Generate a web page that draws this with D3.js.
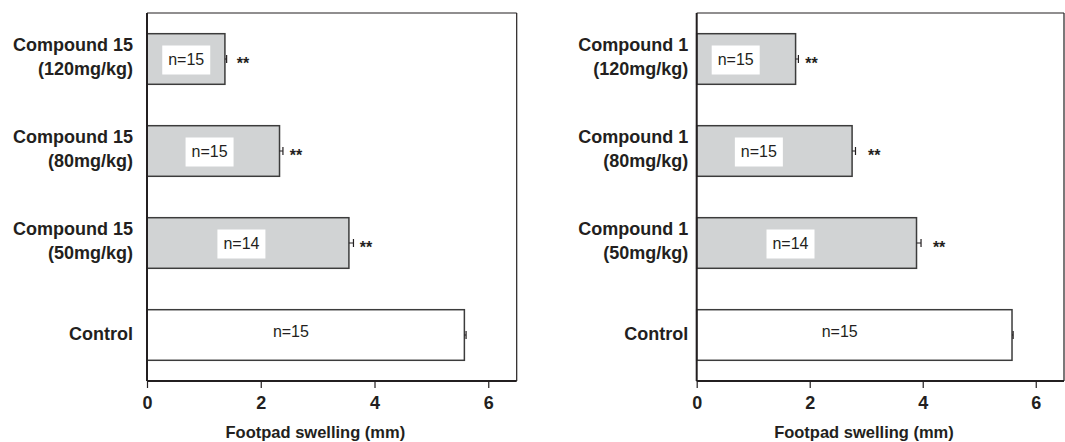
<!DOCTYPE html>
<html><head><meta charset="utf-8">
<script src="https://cdn.jsdelivr.net/npm/d3@7"></script>
<style>
html,body{margin:0;padding:0;background:#fff;}
svg{display:block;font-family:"Liberation Sans",Arial,sans-serif;}
</style></head>
<body><svg id="chart" width="1065" height="442"></svg>
<script>
// ---- data ----
const categoriesLeft = [["Compound 15","(120mg/kg)"],["Compound 15","(80mg/kg)"],["Compound 15","(50mg/kg)"],["Control"]];
const categoriesRight = [["Compound 1","(120mg/kg)"],["Compound 1","(80mg/kg)"],["Compound 1","(50mg/kg)"],["Control"]];
const valuesLeft = [1.37, 2.33, 3.55, 5.58];
const errorsLeft = [0.03, 0.06, 0.08, 0.03];
const valuesRight = [1.75, 2.75, 3.89, 5.58];
const errorsRight = [0.05, 0.06, 0.08, 0.02];
const nLabels = ["n=15", "n=15", "n=14", "n=15"];
const nLabelAt = [0.69, 1.10, 1.66, 2.53];      // label centre, in mm
const starsLeft = ["**", "**", "**", ""];
const starsRight = ["**", "**", "**", ""];
const starAtLeft = [1.58, 2.51, 3.74, null];    // star start, in mm
const starAtRight = [1.92, 3.03, 4.18, null];
const treated = [true, true, true, false];
const xTicks = [0, 2, 4, 6];
const xDomain = [0, 6.5];
const xTitle = "Footpad swelling (mm)";

const svg = d3.select("#chart");
const ink = "#231f20";

function panel(cfg) {
  const g = svg.append("g");
  const x = d3.scaleLinear().domain(xDomain).range([cfg.x0, cfg.x1]);
  const idx = d3.range(cfg.values.length);
  const y = d3.scaleBand().domain(idx).range([13, 381]).paddingInner(0.45).paddingOuter(0.225);

  // frame (top & right)
  g.append("line").attr("x1", x(0)).attr("x2", x(6.5)).attr("y1", 13).attr("y2", 13)
    .attr("stroke", ink).attr("stroke-width", 1.2);
  g.append("line").attr("x1", x(6.5)).attr("x2", x(6.5)).attr("y1", 13).attr("y2", 381)
    .attr("stroke", ink).attr("stroke-width", 1.2);

  // bars
  g.selectAll("rect.bar").data(idx).join("rect")
    .attr("x", x(0)).attr("y", i => y(i))
    .attr("width", i => x(cfg.values[i]) - x(0)).attr("height", y.bandwidth())
    .attr("fill", i => treated[i] ? "#d1d3d4" : "#ffffff")
    .attr("stroke", "#3c3c3c").attr("stroke-width", 1.5);

  // error bars
  idx.forEach(i => {
    const cy = y(i) + y.bandwidth() / 2;
    const xe = x(cfg.values[i] + cfg.errors[i]);
    g.append("line").attr("x1", x(cfg.values[i])).attr("x2", xe).attr("y1", cy).attr("y2", cy)
      .attr("stroke", ink).attr("stroke-width", 1);
    g.append("line").attr("x1", xe).attr("x2", xe).attr("y1", cy - 4).attr("y2", cy + 4)
      .attr("stroke", ink).attr("stroke-width", 1.2);
  });

  // n labels with white boxes
  idx.forEach(i => {
    const cy = y(i) + y.bandwidth() / 2;
    const cx = x(nLabelAt[i]);
    if (treated[i]) {
      g.append("rect").attr("x", cx - 24).attr("y", cy - 13.5).attr("width", 48).attr("height", 29)
        .attr("fill", "#fff");
    }
    g.append("text").attr("x", cx).attr("y", treated[i] ? cy + 5.5 : cy + 2)
      .attr("text-anchor", "middle").attr("font-size", 16).attr("fill", ink).text(nLabels[i]);
  });

  // significance stars
  idx.forEach(i => {
    if (!cfg.stars[i]) return;
    const cy = y(i) + y.bandwidth() / 2;
    g.append("text").attr("x", x(cfg.starAt[i])).attr("y", cy + 10)
      .attr("font-size", 16).attr("font-weight", "bold").attr("fill", ink).text(cfg.stars[i]);
  });

  // category labels
  idx.forEach(i => {
    const cy = y(i) + y.bandwidth() / 2;
    const lines = cfg.cats[i];
    const t = g.append("text").attr("text-anchor", "end").attr("font-size", 18)
      .attr("font-weight", "bold").attr("fill", ink);
    if (lines.length === 2) {
      t.append("tspan").attr("x", x(0) - cfg.labelGap).attr("y", cy - 8).text(lines[0]);
      t.append("tspan").attr("x", x(0) - cfg.labelGap).attr("y", cy + 15.5).text(lines[1]);
    } else {
      t.append("tspan").attr("x", x(0) - cfg.labelGap).attr("y", cy + 5).text(lines[0]);
    }
  });

  // x axis
  const ax = g.append("g").attr("transform", "translate(0,381)")
    .call(d3.axisBottom(x).tickValues(xTicks).tickSize(7).tickPadding(8).tickFormat(d3.format("d")));
  ax.select(".domain").attr("d", `M${x(0)},0H${x(6.5)}`).attr("stroke", ink).attr("stroke-width", 1.8);
  ax.selectAll(".tick line").attr("stroke", ink).attr("stroke-width", 1.2);
  ax.selectAll(".tick text").attr("font-size", 18).attr("font-weight", "bold")
    .attr("fill", ink).attr("font-family", "\"Liberation Sans\",Arial,sans-serif");

  // y axis line
  g.append("line").attr("x1", x(0)).attr("x2", x(0)).attr("y1", 13).attr("y2", 381)
    .attr("stroke", ink).attr("stroke-width", 2);

  // x title
  g.append("text").attr("x", x(2.96)).attr("y", 438).attr("text-anchor", "middle")
    .attr("font-size", 16.5).attr("font-weight", "bold").attr("fill", ink).text(xTitle);
}

panel({x0: 147, x1: 516.7, values: valuesLeft, errors: errorsLeft, cats: categoriesLeft,
       stars: starsLeft, starAt: starAtLeft, labelGap: 14});
panel({x0: 696.7, x1: 1064, values: valuesRight, errors: errorsRight, cats: categoriesRight,
       stars: starsRight, starAt: starAtRight, labelGap: 8.5});
</script></body></html>
